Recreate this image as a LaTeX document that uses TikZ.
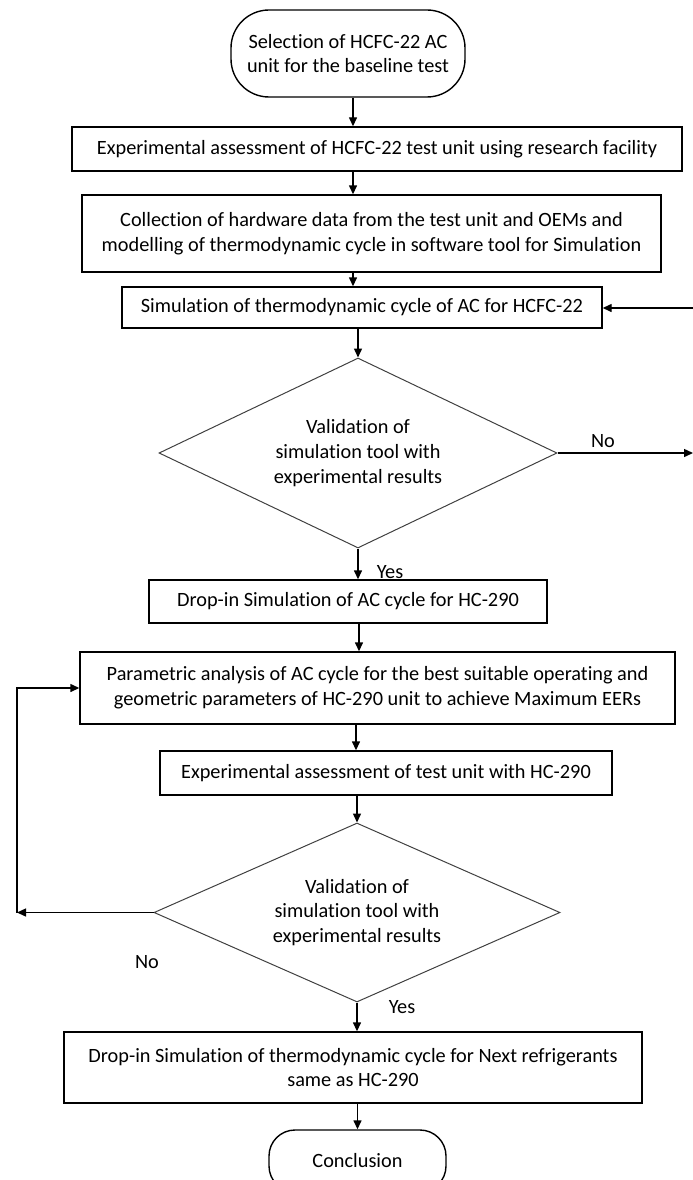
\documentclass[tikz,border=0pt]{standalone}
\usepackage{fontspec}
\setmainfont{Carlito}[Ligatures=NoCommon]
\usetikzlibrary{shapes.geometric,arrows.meta}
\begin{document}
\begin{tikzpicture}[x=1pt,y=-1pt,
  txt/.style={font=\fontsize{20.3}{24.8}\selectfont, text=black, align=center},
  box/.style={txt, draw=black, line width=1.4pt, inner sep=0pt},
  term/.style={box, rounded corners=38pt},
  dec/.style={txt, draw=black!75, line width=1pt, shape=diamond, aspect=2.1, inner sep=0pt},
  arr/.style={draw=black, line width=1.4pt, -{Triangle[length=9pt,width=8pt]}},
  lab/.style={txt, inner sep=0pt}]
\useasboundingbox (0,0) rectangle (693,1180);
\clip (0,0) rectangle (693,1180);

\node[term, minimum width=234pt, minimum height=87pt] (s) at (348,53.5) {Selection of HCFC-22 AC\\unit for the baseline test};
\node[box, minimum width=610pt, minimum height=44pt] (b2) at (377,149) {Experimental assessment of HCFC-22 test unit using research facility};
\node[box, minimum width=579pt, minimum height=77pt] (b3) at (371.5,233.5) {Collection of hardware data from the test unit and OEMs and\\modelling of thermodynamic cycle in software tool for Simulation};
\node[box, minimum width=480pt, minimum height=41pt] (b4) at (362,307.5) {Simulation of thermodynamic cycle of AC for HCFC-22};
\node[dec, minimum width=398pt, minimum height=190pt] (d1) at (358,453) {Validation of\\simulation tool with\\experimental results};
\node[box, minimum width=398pt, minimum height=43pt] (b5) at (348,601.5) {Drop-in Simulation of AC cycle for HC-290};
\node[box, minimum width=595pt, minimum height=72pt] (b6) at (377.5,688) {Parametric analysis of AC cycle for the best suitable operating and\\geometric parameters of HC-290 unit to achieve Maximum EERs};
\node[box, minimum width=452pt, minimum height=44pt] (b7) at (386,773) {Experimental assessment of test unit with HC-290};
\node[dec, minimum width=406pt, minimum height=179pt] (d2) at (357,912.5) {Validation of\\simulation tool with\\experimental results};
\node[box, minimum width=578pt, minimum height=71pt] (b8) at (353,1067.5) {Drop-in Simulation of thermodynamic cycle for Next refrigerants\\same as HC-290};
\node[term, rounded corners=26pt, minimum width=177pt, minimum height=62pt] (c) at (357.5,1161) {Conclusion};

\coordinate (cA) at (353,0);
\coordinate (cD) at (359,0);
\coordinate (cE) at (356,0);
\coordinate (r1) at (693,308);
\coordinate (r2) at (693,0);
\coordinate (l1) at (17,0);

\draw[arr] (s.south -| cA) -- (b2.north -| cA);
\draw[arr] (b2.south -| cA) -- (b3.north -| cA);
\draw[arr] (b3.south -| cA) -- (b4.north -| cA);
\draw[arr] (b4.south -| d1.north) -- (d1.north);
\draw[arr] (d1.south) -- (b5.north -| d1.south);
\draw[arr] (b5.south -| cD) -- (b6.north -| cD);
\draw[arr] (b6.south -| cE) -- (b7.north -| cE);
\draw[arr] (b7.south -| d2.north) -- (d2.north);
\draw[arr] (d2.south) -- (b8.north -| d2.south);
\draw[arr] (b8.south -| c.north) -- (c.north);

\draw[arr] (r1) -- (b4.east |- r1);
\draw[arr] (d1.east) -- (d1.east -| r2);
\draw[arr] (d2.west) -- (d2.west -| l1);
\draw[arr] (d2.west -| l1) -- (b6.west -| l1) -- (b6.west);

\node[lab] (y1) at (390,572) {Yes};
\node[lab] (y2) at (402,1007) {Yes};
\node[lab] (n1) at (603,441) {No};
\node[lab] (n2) at (147,962) {No};
\end{tikzpicture}
\end{document}
